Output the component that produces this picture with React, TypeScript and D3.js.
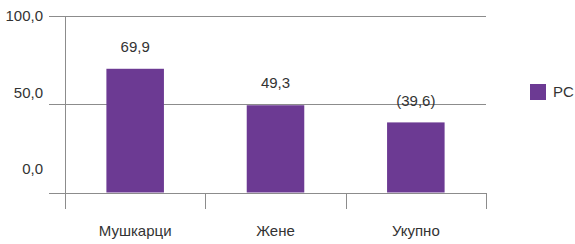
import { useEffect, useRef } from 'react';
import * as d3 from 'd3';

const categories = ['Мушкарци', 'Жене', 'Укупно'];
const values = [69.9, 49.3, 39.6];
const valueLabels = ['69,9', '49,3', '(39,6)'];
const yTicks = [0, 50, 100];
const seriesName = 'PC';

const W = 575;
const H = 244;
const BAR = '#6C3A93';
const GRID = '#8c8c8c';
const INK = '#333';
const FONT = '"Liberation Sans", Arial, sans-serif';

export default function App() {
  const ref = useRef<SVGSVGElement>(null);

  useEffect(() => {
    if (!ref.current) return;
    const svg = d3.select(ref.current);
    svg.selectAll('*').remove();

    const left = 65, right = 486, top = 15.5, base = 192.5;
    const x = d3.scaleBand<string>().domain(categories).range([left, right])
      .paddingInner(0.59).paddingOuter(0.295);
    const step = (right - left) / categories.length;
    const y = d3.scaleLinear().domain([0, 100]).range([base, top]);
    // the tick labels sit on their own spacing, not on the gridlines
    const yLab = d3.scaleLinear().domain([0, 100]).range([169, 16]);

    const g = svg.append('g');

    g.selectAll('.grid').data(yTicks).enter().append('line')
      .attr('x1', 49).attr('x2', right)
      .attr('y1', d => Math.round(y(d)) + 0.5).attr('y2', d => Math.round(y(d)) + 0.5)
      .attr('stroke', GRID).attr('stroke-width', 1);

    g.append('line').attr('x1', left + 0.5).attr('x2', left + 0.5)
      .attr('y1', Math.round(top)).attr('y2', 209)
      .attr('stroke', GRID);

    const bounds = d3.range(1, categories.length + 1).map(i => left + i * step);
    g.selectAll('.ctick').data(bounds).enter().append('line')
      .attr('x1', d => Math.round(d) + 0.5).attr('x2', d => Math.round(d) + 0.5)
      .attr('y1', Math.round(base)).attr('y2', 209)
      .attr('stroke', GRID);

    g.selectAll('.ylab').data(yTicks).enter().append('text')
      .attr('x', 43).attr('y', d => yLab(d))
      .attr('dy', '0.35em').attr('text-anchor', 'end')
      .attr('font-family', FONT).attr('font-size', 15).attr('fill', INK)
      .text(d => d3.format('.1f')(d).replace('.', ','));

    g.selectAll('.bar').data(values).enter().append('rect')
      .attr('x', (_, i) => x(categories[i])!)
      .attr('width', x.bandwidth())
      .attr('y', d => y(d))
      .attr('height', d => base - y(d))
      .attr('fill', BAR);

    g.selectAll('.vlab').data(values).enter().append('text')
      .attr('x', (_, i) => x(categories[i])! + x.bandwidth() / 2)
      .attr('y', d => y(d) - 22)
      .attr('dy', '0.35em').attr('text-anchor', 'middle')
      .attr('font-family', FONT).attr('font-size', 15).attr('fill', INK)
      .text((_, i) => valueLabels[i]);

    g.selectAll('.clab').data(categories).enter().append('text')
      .attr('x', d => x(d)! + x.bandwidth() / 2)
      .attr('y', 231)
      .attr('dy', '0.35em').attr('text-anchor', 'middle')
      .attr('font-family', FONT).attr('font-size', 15).attr('fill', INK)
      .text(d => d);

    g.append('rect').attr('x', 530).attr('y', 84).attr('width', 16).attr('height', 16).attr('fill', BAR);
    g.append('text').attr('x', 553).attr('y', 92).attr('dy', '0.35em')
      .attr('font-family', FONT).attr('font-size', 15).attr('fill', INK)
      .text(seriesName);
  }, []);

  return (
    <svg ref={ref} width={W} height={H}
      style={{ position: 'absolute', left: 0, top: 0, background: '#fff' }} />
  );
}
